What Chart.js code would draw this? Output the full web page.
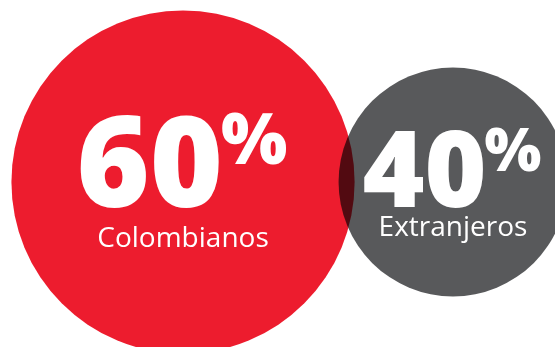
<!DOCTYPE html>
<html>
<head>
<meta charset="utf-8">
<script src="https://cdn.jsdelivr.net/npm/chart.js@4.4.1/dist/chart.umd.min.js"></script>
<style>
  html, body { margin: 0; padding: 0; background: #fff; }
  #wrap { width: 555px; height: 347px; }
</style>
</head>
<body>
<div id="wrap"><canvas id="shareChart" width="555" height="347"></canvas></div>
<script>
const categories = ['Colombianos', 'Extranjeros'];
const shares = [60, 40];
const colors = ['#ED1C2E', '#58595B'];

// font sizes per bubble (number, percent sign, caption)
const numberSize = [125, 106];
const pctSize = [70, 60];
const captionSize = [28, 28];
const captionGap = [40, 29];
const baseShift = [0.145, 0.22];

const blendPlugin = {
  id: 'blend',
  beforeDatasetsDraw(chart) {
    chart.ctx.save();
    chart.ctx.globalCompositeOperation = 'multiply';
  },
  afterDatasetsDraw(chart) {
    chart.ctx.restore();
  }
};

const labelPlugin = {
  id: 'bubbleLabels',
  afterDraw(chart) {
    const ctx = chart.ctx;
    const meta = chart.getDatasetMeta(0);
    meta.data.forEach((el, i) => {
      const cx = el.x, cy = el.y;
      const r = el.options.radius;
      const num = String(shares[i]);
      ctx.save();
      ctx.fillStyle = '#fff';
      ctx.textBaseline = 'alphabetic';
      ctx.textAlign = 'left';

      ctx.font = '800 ' + numberSize[i] + 'px "Open Sans", sans-serif';
      const nw = ctx.measureText(num).width;
      ctx.font = '800 ' + pctSize[i] + 'px "Open Sans", sans-serif';
      const pw = ctx.measureText('%').width;
      const start = cx - (nw + pw) / 2;
      const base = cy + r * baseShift[i];

      ctx.font = '800 ' + numberSize[i] + 'px "Open Sans", sans-serif';
      ctx.fillText(num, start, base);
      ctx.font = '800 ' + pctSize[i] + 'px "Open Sans", sans-serif';
      const numTop = base - numberSize[i] * 0.72;
      ctx.fillText('%', start + nw - 2, numTop + pctSize[i] * 0.72 - 3);

      ctx.textAlign = 'center';
      ctx.font = '400 ' + captionSize[i] + 'px "Open Sans", sans-serif';
      ctx.fillText(categories[i], cx, base + captionGap[i]);
      ctx.restore();
    });
  }
};

new Chart(document.getElementById('shareChart'), {
  type: 'bubble',
  data: {
    labels: categories,
    datasets: [{
      data: shares.map((v, i) => ({ x: i, y: 0 })),
      backgroundColor: colors,
      hoverBackgroundColor: colors,
      borderWidth: 0,
      hoverBorderWidth: 0,
      hoverRadius: 0,
      clip: false,
      radius: c => shares[c.dataIndex] * 2.86
    }]
  },
  options: {
    responsive: false,
    animation: false,
    events: [],
    layout: { padding: 0, autoPadding: false },
    plugins: { legend: { display: false }, tooltip: { enabled: false } },
    scales: {
      x: { type: 'linear', display: false, min: -0.678, max: 1.378 },
      y: { type: 'linear', display: false, min: -1, max: 1.103 }
    }
  },
  plugins: [blendPlugin, labelPlugin]
});
</script>
</body>
</html>
